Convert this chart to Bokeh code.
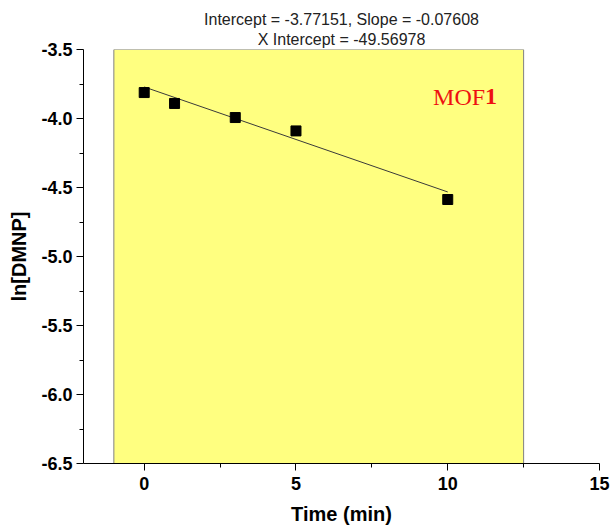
from bokeh.plotting import figure
from bokeh.models import Range1d, FixedTicker, NumeralTickFormatter, Title, ColumnDataSource
from bokeh.core.properties import value
from bokeh.embed import file_html
from bokeh.resources import INLINE

# data
time_min = [0, 1, 3, 5, 10]
ln_dmnp = [-3.812, -3.891, -3.993, -4.090, -4.587]
fit_intercept = -3.77151
fit_slope = -0.07608
x_intercept = -49.56978
fit_x = [0, 10]
fit_y = [fit_intercept + fit_slope * v for v in fit_x]
x_ticks = [0, 5, 10, 15]
x_minor = [2.5, 7.5, 12.5]
y_ticks = [-6.5, -6.0, -5.5, -5.0, -4.5, -4.0, -3.5]
y_minor = [-6.25, -5.75, -5.25, -4.75, -4.25, -3.75]
band = dict(left=[-1.0], right=[12.5], bottom=[-6.5], top=[-3.5])
label_x = 11.23
label_y = -3.843

FONT = "Liberation Sans"

p = figure(width=613, height=532, output_backend="svg", toolbar_location=None,
           x_range=Range1d(-2, 15), y_range=Range1d(-6.5, -3.5),
           min_border_left=83, min_border_right=14, min_border_top=49, min_border_bottom=69)
p.outline_line_color = None
p.xgrid.visible = False
p.ygrid.visible = False
p.background_fill_color = "white"
p.border_fill_color = "white"

line1 = "Intercept = %.5f, Slope = %.5f" % (fit_intercept, fit_slope)
line2 = "X Intercept = %.5f" % x_intercept
t2 = Title(text=line2, align="center", text_font=FONT, text_font_size="16px",
           text_font_style="normal", text_color="#222222", standoff=3)
t1 = Title(text=line1, align="center", text_font=FONT, text_font_size="16px",
           text_font_style="normal", text_color="#222222", standoff=0)
p.add_layout(t2, "above")
p.add_layout(t1, "above")

# yellow band
p.quad(source=ColumnDataSource(band), left="left", right="right", bottom="bottom", top="top",
       fill_color="#FFFF80", line_color="#808080", line_width=1)

# fit line and points
p.line(fit_x, fit_y, line_color="#3a3a3a", line_width=1)
p.scatter(time_min, ln_dmnp, marker="square", size=10, fill_color="black", line_color="black")

# MOF1 label
p.text(x=[label_x], y=[label_y], text=["MOF"], text_align="right", text_baseline="alphabetic",
       text_font=value("Liberation Serif"), text_font_size="24px", text_color="#EE1111")
p.text(x=[label_x], y=[label_y], text=["1"], text_align="left", text_baseline="alphabetic",
       text_font=value("Liberation Serif"), text_font_size="24px", text_font_style="bold",
       text_color="#EE1111")

# axes
xa = p.xaxis[0]
xa.ticker = FixedTicker(ticks=x_ticks, minor_ticks=x_minor)
xa.axis_label = "Time (min)"
ya = p.yaxis[0]
ya.ticker = FixedTicker(ticks=y_ticks, minor_ticks=y_minor)
ya.formatter = NumeralTickFormatter(format="0.0")
ya.axis_label = "ln[DMNP]"
for ax in (xa, ya):
    ax.axis_line_color = "black"
    ax.axis_line_width = 1
    ax.major_tick_line_color = "black"
    ax.minor_tick_line_color = "black"
    ax.major_tick_out = 7
    ax.major_tick_in = 0
    ax.minor_tick_out = 4
    ax.minor_tick_in = 0
    ax.major_label_text_font = FONT
    ax.major_label_text_font_size = "18px"
    ax.major_label_text_font_style = "bold"
    ax.major_label_text_color = "black"
    ax.axis_label_text_font = FONT
    ax.axis_label_text_font_size = "20px"
    ax.axis_label_text_font_style = "bold"
    ax.axis_label_text_color = "black"
xa.major_label_standoff = 6
xa.axis_label_standoff = 10
ya.major_label_standoff = 4
ya.axis_label_standoff = 8

open("out.html", "w").write(file_html(p, INLINE))
